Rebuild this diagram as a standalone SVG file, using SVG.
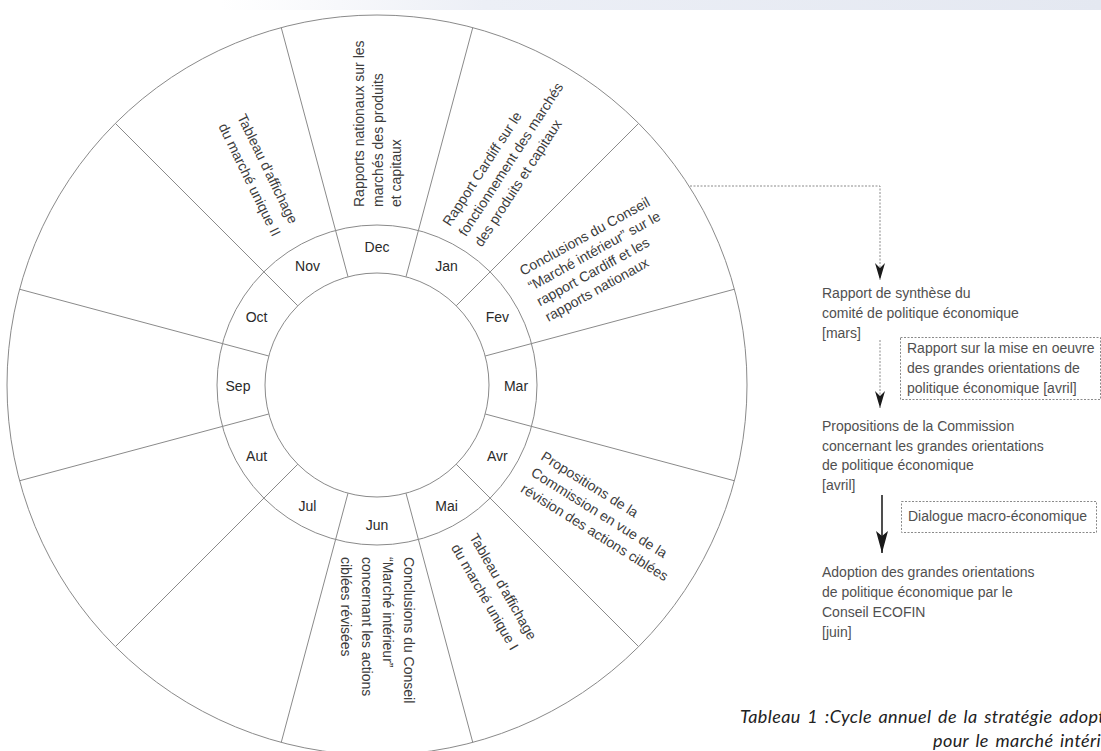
<svg xmlns="http://www.w3.org/2000/svg" width="1101" height="751" viewBox="0 0 1101 751">
<defs>
<style>
.ln{stroke:#8a8a8a;stroke-width:1;fill:none}
.t{font-family:"Liberation Sans",Arial,sans-serif;font-size:14px;fill:#3c3c3c}
.m{font-family:"Liberation Sans",Arial,sans-serif;font-size:14px;fill:#2a2a2a;text-anchor:middle}
.ft{font-family:"Liberation Sans",Arial,sans-serif;font-size:14px;fill:#505050}
.box{fill:none;stroke:#8a8a8a;stroke-width:1;stroke-dasharray:2 1.5}
.dot{fill:none;stroke:#8a8a8a;stroke-width:1;stroke-dasharray:2 1.5}
.solid{fill:none;stroke:#222;stroke-width:1.6}
.cap{font-family:Lato,"Open Sans",sans-serif;font-style:italic;font-size:18px;letter-spacing:0.4px;word-spacing:2px;fill:#222}
</style>
<linearGradient id="band" x1="0" y1="0" x2="1" y2="0">
<stop offset="0" stop-color="#eef0f6" stop-opacity="0"/>
<stop offset="0.3" stop-color="#eceff6" stop-opacity="1"/>
<stop offset="1" stop-color="#e4e8f1" stop-opacity="1"/>
</linearGradient>
<marker id="ah" markerUnits="userSpaceOnUse" markerWidth="18" markerHeight="12" viewBox="-17 -6 18 12" refX="0" refY="0" orient="auto">
<path d="M0,0 L-17,-5 L-12,0 L-17,5 Z" fill="#1a1a1a"/>
</marker>
<marker id="ah2" markerUnits="userSpaceOnUse" markerWidth="24" markerHeight="14" viewBox="-23 -7 24 14" refX="0" refY="0" orient="auto">
<path d="M0,0 L-22,-6 L-17,0 L-22,6 Z" fill="#1a1a1a"/>
</marker>
</defs>

<rect x="220" y="0" width="881" height="10" fill="url(#band)"/>

<g id="wheel">
<circle class="ln" cx="377" cy="385" r="370"/>
<circle class="ln" cx="377" cy="385" r="160"/>
<circle class="ln" cx="377" cy="385" r="112"/>
<g id="dividers">
<line class="ln" x1="405.99" y1="276.82" x2="472.76" y2="27.61"/>
<line class="ln" x1="456.20" y1="305.80" x2="638.63" y2="123.37"/>
<line class="ln" x1="485.18" y1="356.01" x2="734.39" y2="289.24"/>
<line class="ln" x1="485.18" y1="413.99" x2="734.39" y2="480.76"/>
<line class="ln" x1="456.20" y1="464.20" x2="638.63" y2="646.63"/>
<line class="ln" x1="405.99" y1="493.18" x2="472.76" y2="742.39"/>
<line class="ln" x1="348.01" y1="493.18" x2="281.24" y2="742.39"/>
<line class="ln" x1="297.80" y1="464.20" x2="115.37" y2="646.63"/>
<line class="ln" x1="268.82" y1="413.99" x2="19.61" y2="480.76"/>
<line class="ln" x1="268.82" y1="356.01" x2="19.61" y2="289.24"/>
<line class="ln" x1="297.80" y1="305.80" x2="115.37" y2="123.37"/>
<line class="ln" x1="348.01" y1="276.82" x2="281.24" y2="27.61"/>
</g>
</g>

<g id="dec">
<text class="m" x="377" y="252">Dec</text>
<text class="t" transform="translate(364,207) rotate(-90)"><tspan x="0" y="0">Rapports nationaux sur les</tspan><tspan x="0" dy="18.5">marchés des produits</tspan><tspan x="0" dy="18.5">et capitaux</tspan></text>
</g>
<g id="jan">
<text class="m" x="446.5" y="270.6">Jan</text>
<text class="t" transform="translate(450,227) rotate(-57)"><tspan x="0" y="0">Rapport Cardiff sur le</tspan><tspan x="0" dy="19">fonctionnement des marchés</tspan><tspan x="0" dy="19">des produits et capitaux</tspan></text>
</g>
<g id="fev">
<text class="m" x="497.4" y="321.5">Fev</text>
<text class="t" transform="translate(523,276) rotate(-29)"><tspan x="0" y="0">Conclusions du Conseil</tspan><tspan x="0" dy="17.5">“Marché intérieur” sur le</tspan><tspan x="0" dy="17.5">rapport Cardiff et les</tspan><tspan x="0" dy="17.5">rapports nationaux</tspan></text>
</g>
<g id="mar">
<text class="m" x="516" y="391">Mar</text>
</g>
<g id="avr">
<text class="m" x="497.4" y="460.5">Avr</text>
<text class="t" transform="translate(540,459) rotate(32)"><tspan x="0" y="0">Propositions de la</tspan><tspan x="0" dy="19">Commission en vue de la</tspan><tspan x="0" dy="19">révision des actions ciblées</tspan></text>
</g>
<g id="mai">
<text class="m" x="446.5" y="511.4">Mai</text>
<text class="t" transform="translate(469,537) rotate(60)"><tspan x="0" y="0">Tableau d'affichage</tspan><tspan x="0" dy="21">du marché unique I</tspan></text>
</g>
<g id="jun">
<text class="m" x="377" y="530">Jun</text>
<text class="t" transform="translate(404,557) rotate(90)"><tspan x="0" y="0">Conclusions du Conseil</tspan><tspan x="0" dy="21">“Marché intérieur”</tspan><tspan x="0" dy="21">concernant les actions</tspan><tspan x="0" dy="21">ciblées révisées</tspan></text>
</g>
<g id="jul">
<text class="m" x="307.5" y="511.4">Jul</text>
</g>
<g id="aut">
<text class="m" x="256.6" y="460.5">Aut</text>
</g>
<g id="sep">
<text class="m" x="238" y="391">Sep</text>
</g>
<g id="oct">
<text class="m" x="256.6" y="321.5">Oct</text>
</g>
<g id="nov">
<text class="m" x="307.5" y="270.6">Nov</text>
<text class="t" transform="translate(237,117) rotate(64)"><tspan x="0" y="0">Tableau d'affichage</tspan><tspan x="0" dy="21">du marché unique II</tspan></text>
</g>

<g id="connectors">
<path class="dot" d="M690,186 H880 V280" marker-end="url(#ah)"/>
<path class="dot" d="M880,340 V408" marker-end="url(#ah)"/>
<path class="solid" d="M882,495 V553" marker-end="url(#ah2)"/>
</g>

<g id="rapport-synthese">
<text class="ft" x="822" y="298"><tspan x="822">Rapport de synthèse du</tspan><tspan x="822" dy="20">comité de politique économique</tspan><tspan x="822" dy="20">[mars]</tspan></text>
</g>
<g id="rapport-mise-en-oeuvre">
<rect class="box" x="900.5" y="337.5" width="200" height="62"/>
<text class="ft" x="907" y="353"><tspan x="907">Rapport sur la mise en oeuvre</tspan><tspan x="907" dy="20">des grandes orientations de</tspan><tspan x="907" dy="20">politique économique [avril]</tspan></text>
</g>
<g id="propositions-commission">
<text class="ft" x="822" y="431"><tspan x="822">Propositions de la Commission</tspan><tspan x="822" dy="19.5">concernant les grandes orientations</tspan><tspan x="822" dy="19.5">de politique économique</tspan><tspan x="822" dy="19.5">[avril]</tspan></text>
</g>
<g id="dialogue">
<rect class="box" x="901.5" y="501.5" width="195" height="31"/>
<text class="ft" x="908" y="521">Dialogue macro-économique</text>
</g>
<g id="adoption">
<text class="ft" x="822" y="577"><tspan x="822">Adoption des grandes orientations</tspan><tspan x="822" dy="20">de politique économique par le</tspan><tspan x="822" dy="20">Conseil ECOFIN</tspan><tspan x="822" dy="20">[juin]</tspan></text>
</g>

<g id="caption">
<text class="cap" x="740" y="723">Tableau 1 :Cycle annuel de la stratégie adoptée</text>
<text class="cap" x="933" y="747">pour le marché intérieur</text>
</g>
</svg>
